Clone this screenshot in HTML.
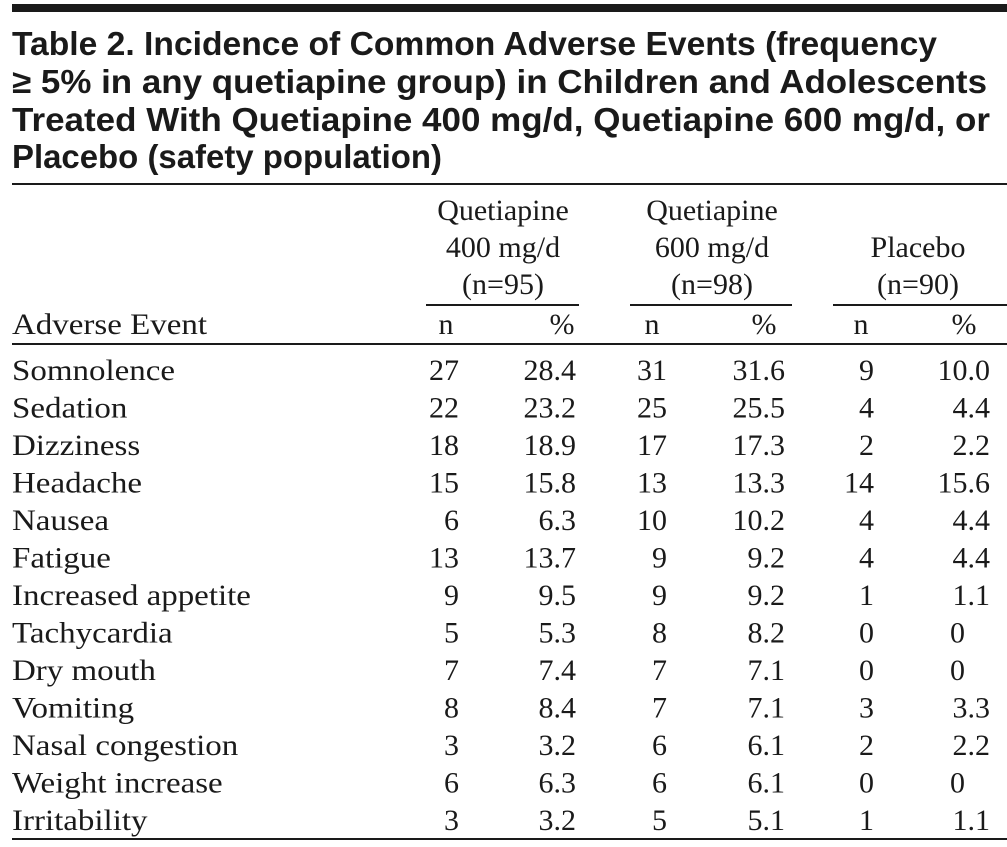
<!DOCTYPE html>
<html><head><meta charset="utf-8"><style>
html,body{margin:0;padding:0;background:#fff}
svg{display:block}
.t{font-family:"Liberation Sans",sans-serif;font-weight:bold;font-size:33px;fill:#1a1a1a}
.s{font-family:"Liberation Serif",serif;font-size:30px;fill:#1a1a1a}
</style></head><body>
<svg width="1007" height="847" viewBox="0 0 1007 847" xmlns="http://www.w3.org/2000/svg">
<rect x="12" y="4" width="995" height="8" fill="#1a1a1a"/>
<text class="t" x="12" y="55" textLength="925" lengthAdjust="spacingAndGlyphs">Table 2. Incidence of Common Adverse Events (frequency</text>
<text class="t" x="12" y="93" textLength="975" lengthAdjust="spacingAndGlyphs">≥ 5% in any quetiapine group) in Children and Adolescents</text>
<text class="t" x="12" y="131" textLength="978" lengthAdjust="spacingAndGlyphs">Treated With Quetiapine 400 mg/d, Quetiapine 600 mg/d, or</text>
<text class="t" x="12" y="168" textLength="430" lengthAdjust="spacingAndGlyphs">Placebo (safety population)</text>
<rect x="12" y="183" width="995" height="2" fill="#1a1a1a"/>
<g class="s" text-anchor="middle">
<text x="503" y="220">Quetiapine</text><text x="503" y="257">400 mg/d</text><text x="503" y="294">(n=95)</text>
<text x="712" y="220">Quetiapine</text><text x="712" y="257">600 mg/d</text><text x="712" y="294">(n=98)</text>
<text x="918" y="257">Placebo</text><text x="918" y="294">(n=90)</text>
<text x="446" y="334">n</text><text x="562" y="334">%</text>
<text x="652" y="334">n</text><text x="764" y="334">%</text>
<text x="861" y="334">n</text><text x="964" y="334">%</text>
</g>
<rect x="426" y="304" width="153" height="2" fill="#1a1a1a"/>
<rect x="630" y="304" width="162" height="2" fill="#1a1a1a"/>
<rect x="833" y="304" width="174" height="2" fill="#1a1a1a"/>
<rect x="12" y="343" width="995" height="2" fill="#1a1a1a"/>
<g class="s" transform="translate(12,0) scale(1.1,1) translate(-12,0)">
<text x="12" y="334">Adverse Event</text>
<text x="12" y="380">Somnolence</text>
<text x="12" y="417.5">Sedation</text>
<text x="12" y="455">Dizziness</text>
<text x="12" y="492.5">Headache</text>
<text x="12" y="530">Nausea</text>
<text x="12" y="567.5">Fatigue</text>
<text x="12" y="605">Increased appetite</text>
<text x="12" y="642.5">Tachycardia</text>
<text x="12" y="680">Dry mouth</text>
<text x="12" y="717.5">Vomiting</text>
<text x="12" y="755">Nasal congestion</text>
<text x="12" y="792.5">Weight increase</text>
<text x="12" y="830">Irritability</text>
</g>
<g class="s" text-anchor="end">
<g transform="translate(0,380)"><text x="459">27</text><text x="576">28.4</text><text x="667">31</text><text x="785">31.6</text><text x="874">9</text><text x="990">10.0</text></g>
<g transform="translate(0,417.5)"><text x="459">22</text><text x="576">23.2</text><text x="667">25</text><text x="785">25.5</text><text x="874">4</text><text x="990">4.4</text></g>
<g transform="translate(0,455)"><text x="459">18</text><text x="576">18.9</text><text x="667">17</text><text x="785">17.3</text><text x="874">2</text><text x="990">2.2</text></g>
<g transform="translate(0,492.5)"><text x="459">15</text><text x="576">15.8</text><text x="667">13</text><text x="785">13.3</text><text x="874">14</text><text x="990">15.6</text></g>
<g transform="translate(0,530)"><text x="459">6</text><text x="576">6.3</text><text x="667">10</text><text x="785">10.2</text><text x="874">4</text><text x="990">4.4</text></g>
<g transform="translate(0,567.5)"><text x="459">13</text><text x="576">13.7</text><text x="667">9</text><text x="785">9.2</text><text x="874">4</text><text x="990">4.4</text></g>
<g transform="translate(0,605)"><text x="459">9</text><text x="576">9.5</text><text x="667">9</text><text x="785">9.2</text><text x="874">1</text><text x="990">1.1</text></g>
<g transform="translate(0,642.5)"><text x="459">5</text><text x="576">5.3</text><text x="667">8</text><text x="785">8.2</text><text x="874">0</text><text x="965">0</text></g>
<g transform="translate(0,680)"><text x="459">7</text><text x="576">7.4</text><text x="667">7</text><text x="785">7.1</text><text x="874">0</text><text x="965">0</text></g>
<g transform="translate(0,717.5)"><text x="459">8</text><text x="576">8.4</text><text x="667">7</text><text x="785">7.1</text><text x="874">3</text><text x="990">3.3</text></g>
<g transform="translate(0,755)"><text x="459">3</text><text x="576">3.2</text><text x="667">6</text><text x="785">6.1</text><text x="874">2</text><text x="990">2.2</text></g>
<g transform="translate(0,792.5)"><text x="459">6</text><text x="576">6.3</text><text x="667">6</text><text x="785">6.1</text><text x="874">0</text><text x="965">0</text></g>
<g transform="translate(0,830)"><text x="459">3</text><text x="576">3.2</text><text x="667">5</text><text x="785">5.1</text><text x="874">1</text><text x="990">1.1</text></g>
</g>
<rect x="12" y="838" width="995" height="2" fill="#1a1a1a"/>
</svg>
</body></html>
